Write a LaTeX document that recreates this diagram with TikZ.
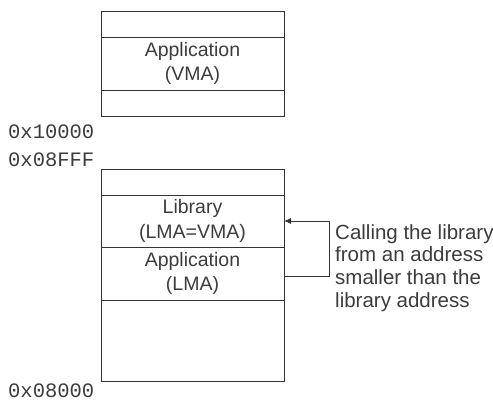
\documentclass[tikz,border=0pt]{standalone}
\usepackage{fontspec}
\setmainfont{Liberation Sans}
\setmonofont{Liberation Mono}
\usetikzlibrary{arrows.meta}
\definecolor{ink}{HTML}{333333}
\definecolor{txt}{HTML}{3C3C3C}
\begin{document}
\begin{tikzpicture}[x=1pt,y=-1pt,
  sect/.style={draw=ink, line width=0.9pt, rectangle, anchor=north west, minimum width=183pt, inner sep=0pt, outer sep=0pt, text=txt, align=center, font=\fontsize{19.5}{24.5}\selectfont},
  addr/.style={anchor=base west, inner sep=0pt, text=txt, font=\ttfamily\fontsize{20.5}{22}\selectfont},
  conn/.style={draw=ink, line width=0.9pt}]
\useasboundingbox (0,0) rectangle (493,401);
% upper memory
\node[sect, minimum height=26pt] (t1) at (101,11) {};
\node[sect, minimum height=53pt] (t2) at (101,37) {Application\\(VMA)};
\node[sect, minimum height=26pt] (t3) at (101,90) {};
% lower memory
\node[sect, minimum height=26pt] (b1) at (101,169) {};
\node[sect, minimum height=52pt] (b2) at (101,195) {Library\\(LMA=VMA)};
\node[sect, minimum height=53pt] (b3) at (101,247) {Application\\(LMA)};
\node[sect, minimum height=81pt] (b4) at (101,300) {};
% addresses
\node[addr] (a1) at (8,139) {0x10000};
\node[addr] (a2) at (8,167) {0x08FFF};
\node[addr] (a3) at (8,397.5) {0x08000};
% note
\node[anchor=north west, inner sep=0pt, text=txt, align=left, font=\fontsize{20.5}{22.7}\selectfont] (note) at (335,224) {Calling the library\\from an address\\smaller than the\\library address};
\coordinate (from) at ([yshift=-2.5pt]b3.east);
\coordinate (turn) at (329,276);
\draw[conn, -{Latex[length=7pt,width=6pt]}] (from) -- (turn) |- (b2.east);
\end{tikzpicture}
\end{document}
